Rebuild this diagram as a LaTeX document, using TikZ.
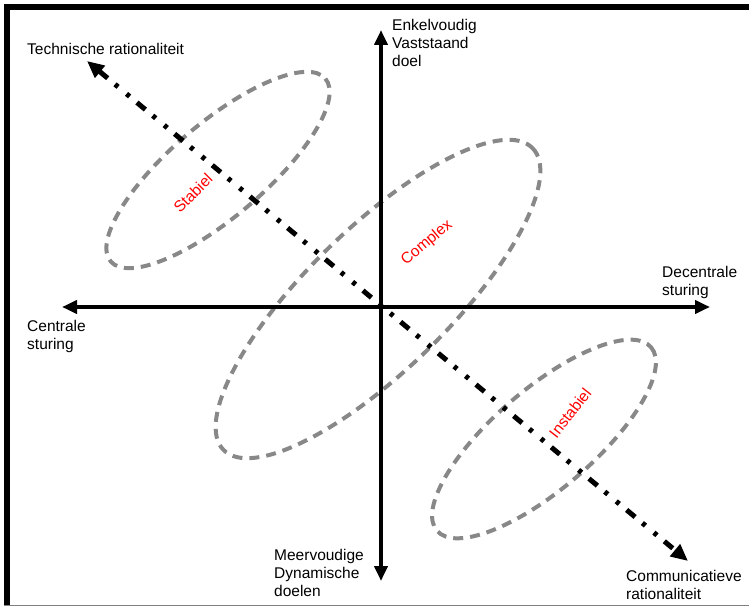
\documentclass[tikz,border=0pt]{standalone}
\usepackage{fontspec}
\setmainfont{Liberation Sans}
\usepackage{tikz}
\usetikzlibrary{arrows.meta}
\definecolor{lijngrijs}{RGB}{136,136,136}

\begin{document}
\begin{tikzpicture}[x=1pt,y=-1pt,
  as/.style={line width=4pt,{Triangle[length=15pt,width=13pt]}-{Triangle[length=15pt,width=13pt]}},
  diag/.style={line width=5pt,dash pattern=on 11pt off 9.5pt on 4pt off 11pt on 4pt off 9.5pt,{Triangle[length=17pt,width=15pt]}-{Triangle[length=17pt,width=15pt]}},
  gebied/.style={line width=4pt,lijngrijs,dash pattern=on 10pt off 7pt},
  lbl/.style={font=\fontsize{15.5}{18}\selectfont,align=left,anchor=north west,inner sep=0pt},
  rood/.style={font=\fontsize{15.5}{18}\selectfont,text=red,inner sep=0pt}]
\useasboundingbox (0,0) rectangle (749,607);

% kader
\draw[line width=6pt] (7,605) -- (7,7) -- (749,7);
\draw[gray,line width=1pt] (4,605) -- (749,605);

% gebieden
\draw[gebied,rotate around={40.4:(218,170)}] (218,170) ellipse [x radius=141,y radius=47];
\draw[gebied,rotate around={44.3:(378,299)}] (378,299) ellipse [x radius=216,y radius=71];
\draw[gebied,rotate around={40.6:(544,439)}] (544,439) ellipse [x radius=141,y radius=50];

\node[rood,rotate=45] (stabiel) at (193,193) {Stabiel};
\node[rood,rotate=40] (complex) at (427,243) {Complex};
\node[rood,rotate=52] (instabiel) at (570,413) {Instabiel};

% assen
\coordinate (cs) at (62,307);
\coordinate (ds) at (710,307);
\coordinate (ev) at (381,30);
\coordinate (md) at (381,581);
\coordinate (tr) at (87,61);
\coordinate (cr) at (688,561);

\draw[as] (cs) -- (ds);
\draw[as] (md) -- (ev);
\draw[diag] (tr) -- (cr);

% teksten
\node[lbl] (technisch) at (27,43) {Technische rationaliteit};
\node[lbl] (enkelvoudig) at (392,19) {Enkelvoudig\\Vaststaand\\doel};
\node[lbl] (decentraal) at (662,266) {Decentrale\\sturing};
\node[lbl] (centraal) at (27,320) {Centrale\\sturing};
\node[lbl] (meervoudig) at (274,549) {Meervoudige\\Dynamische\\doelen};
\node[lbl] (communicatief) at (626,570) {Communicatieve\\rationaliteit};
\end{tikzpicture}
\end{document}
